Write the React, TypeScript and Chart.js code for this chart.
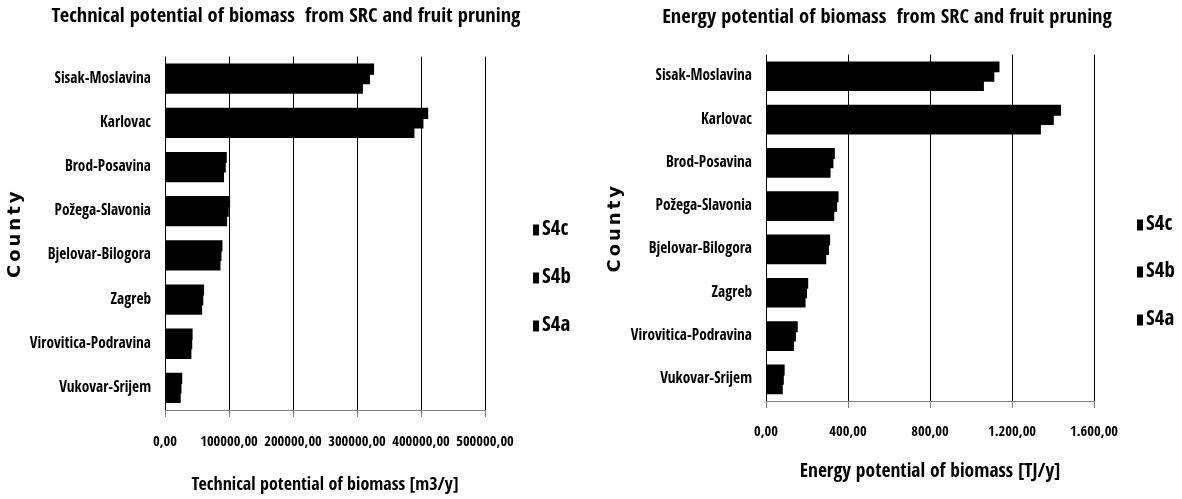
import React, { useEffect, useRef } from 'react';
import { Chart, registerables } from 'chart.js';

Chart.register(...registerables);

const counties = [
  'Sisak-Moslavina',
  'Karlovac',
  'Brod-Posavina',
  'Požega-Slavonia',
  'Bjelovar-Bilogora',
  'Zagreb',
  'Virovitica-Podravina',
  'Vukovar-Srijem',
];

const seriesNames = ['S4c', 'S4b', 'S4a'];

// Technical potential of biomass [m3/y]
const techS4c = [325500, 410000, 95300, 100500, 88500, 59800, 41900, 25700];
const techS4b = [319000, 402600, 93700, 98400, 87000, 58600, 41300, 24500];
const techS4a = [308000, 388500, 91000, 95800, 85500, 56800, 40000, 23300];

// Energy potential of biomass [TJ/y]
const energyS4c = [1135, 1435, 332, 350, 309, 202, 151, 87];
const energyS4b = [1110, 1400, 325, 343, 303, 196, 142, 83];
const energyS4a = [1059, 1337, 311, 329, 290, 189, 133, 78];

const techTickLabels = ['0,00', '100000,00', '200000,00', '300000,00', '400000,00', '500000,00'];
const energyTickLabels = ['0,00', '400,00', '800,00', '1.200,00', '1.600,00'];

const NARROW = "'Open Sans Condensed', 'Roboto Condensed', 'DejaVu Sans Condensed', sans-serif";
const WIDE = "'DejaVu Sans', Verdana, sans-serif";

const sideLegend = {
  id: 'sideLegend',
  afterDraw(chart: any, _args: any, opts: any) {
    const { ctx, chartArea } = chart;
    ctx.save();
    ctx.font = `bold ${opts.size}px ${NARROW}`;
    ctx.textBaseline = 'middle';
    ctx.textAlign = 'left';
    chart.data.datasets.forEach((ds: any, i: number) => {
      const y = opts.ys[i];
      const x = chartArea.right + opts.dx;
      ctx.fillStyle = ds.backgroundColor;
      ctx.fillRect(x, y - opts.boxH / 2, opts.boxW, opts.boxH);
      ctx.fillStyle = '#000';
      ctx.fillText(ds.label, x + opts.boxW + opts.gap, y);
    });
    ctx.restore();
  },
};

type Params = {
  title: string;
  xTitle: string;
  xTitleSize: number;
  values: number[][];
  max: number;
  step: number;
  tickLabels: string[];
  yWidth: number;
  padRight: number;
  xHeight: number;
  titlePad: { top: number; bottom: number };
  xTitlePadBottom: number;
  tickPad: number;
  countyPad: number;
  legendDx: number;
  legendYs: number[];
};

function spacedTitle(s: any) {
  if (s.__spaced) return;
  s.__spaced = true;
  const orig = s.drawTitle;
  s.drawTitle = function (...args: any[]) {
    const ctx = this.ctx;
    ctx.save();
    try {
      (ctx as any).letterSpacing = '3px';
    } catch (e) {
      /* ignore */
    }
    orig.apply(this, args);
    ctx.restore();
  };
}

function makeConfig(p: Params): any {
  return {
    type: 'bar',
    data: {
      labels: counties,
      datasets: seriesNames.map((name, i) => ({
        label: name,
        data: p.values[i],
        backgroundColor: '#000000',
        borderWidth: 0,
        inflateAmount: 0.8,
        categoryPercentage: 0.65,
        barPercentage: 1.0,
      })),
    },
    options: {
      indexAxis: 'y',
      animation: false,
      responsive: false,
      devicePixelRatio: 1,
      layout: { padding: 0 },
      plugins: {
        legend: { display: false },
        tooltip: { enabled: false },
        title: {
          display: true,
          text: p.title,
          color: '#000',
          font: { family: NARROW, size: 20.5, weight: 'bold' },
          padding: p.titlePad,
        },
        sideLegend: { dx: p.legendDx, ys: p.legendYs, boxW: 6, boxH: 11, gap: 3, size: 21 },
      },
      scales: {
        x: {
          type: 'linear',
          min: 0,
          max: p.max,
          ticks: {
            stepSize: p.step,
            autoSkip: false,
            maxRotation: 0,
            color: '#000',
            padding: p.tickPad,
            font: { family: NARROW, size: 14.5, weight: 'bold' },
            callback: (_v: any, i: number) => p.tickLabels[i],
          },
          grid: { color: '#000', lineWidth: 1, drawTicks: true, tickLength: 7, tickColor: '#7f7f7f' },
          border: { display: true, color: '#7f7f7f', width: 1 },
          title: {
            display: true,
            text: p.xTitle,
            color: '#000',
            font: { family: NARROW, size: p.xTitleSize, weight: 'bold' },
            padding: { top: 0, bottom: p.xTitlePadBottom },
          },
          afterFit: (s: any) => {
            s.height = p.xHeight;
          },
        },
        y: {
          ticks: {
            autoSkip: false,
            color: '#000',
            padding: 14,
            font: { family: NARROW, size: 15.3, weight: 'bold' },
          },
          grid: { display: false, drawTicks: false },
          border: { display: false },
          title: {
            display: true,
            text: 'County',
            color: '#000',
            font: { family: WIDE, size: 18, weight: 'bold' },
            padding: { top: p.countyPad, bottom: 0 },
          },
          afterFit: (s: any) => {
            s.width = p.yWidth;
            spacedTitle(s);
          },
        },
        pad: {
          type: 'linear',
          axis: 'y',
          position: 'right',
          display: true,
          grid: { display: false, drawTicks: false },
          border: { display: false },
          ticks: { display: false },
          afterFit: (s: any) => {
            s.width = p.padRight;
          },
        },
      },
    },
    plugins: [sideLegend],
  };
}

function BarChart({ params, left, width }: { params: Params; left: number; width: number }) {
  const ref = useRef<HTMLCanvasElement | null>(null);
  useEffect(() => {
    if (!ref.current) return;
    const chart = new Chart(ref.current, makeConfig(params));
    return () => chart.destroy();
  }, [params]);
  return (
    <canvas
      ref={ref}
      width={width}
      height={499}
      style={{ position: 'absolute', left, top: 0, width, height: 499 }}
    />
  );
}

const techParams: Params = {
  title: 'Technical potential of biomass  from SRC and fruit pruning',
  xTitle: 'Technical potential of biomass [m3/y]',
  xTitleSize: 18,
  values: [techS4c, techS4b, techS4a],
  max: 500000,
  step: 100000,
  tickLabels: techTickLabels,
  yWidth: 165,
  padRight: 87,
  xHeight: 89,
  titlePad: { top: 4, bottom: 28 },
  xTitlePadBottom: 3,
  tickPad: 17,
  countyPad: 5,
  legendDx: 48,
  legendYs: [230, 278, 326],
};

const energyParams: Params = {
  title: 'Energy potential of biomass  from SRC and fruit pruning',
  xTitle: 'Energy potential of biomass [TJ/y]',
  xTitleSize: 19.5,
  values: [energyS4c, energyS4b, energyS4a],
  max: 1600,
  step: 400,
  tickLabels: energyTickLabels,
  yWidth: 174,
  padRight: 88,
  xHeight: 98,
  titlePad: { top: 5, bottom: 25 },
  xTitlePadBottom: 15,
  tickPad: 16,
  countyPad: 13,
  legendDx: 43,
  legendYs: [225, 272, 320],
};

export default function App() {
  return (
    <div
      style={{
        position: 'absolute',
        left: 0,
        top: 0,
        width: 1182,
        height: 499,
        background: '#ffffff',
        overflow: 'hidden',
      }}
    >
      <BarChart params={techParams} left={0} width={572} />
      <BarChart params={energyParams} left={592} width={590} />
    </div>
  );
}
